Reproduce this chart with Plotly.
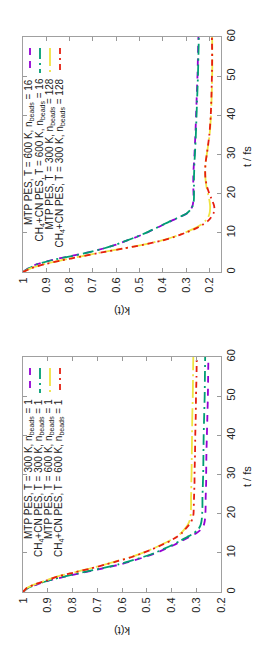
import plotly.graph_objects as go

# ---------------- data ----------------
t_fs = [0, 1, 2, 3, 4, 5, 6, 7, 8, 9, 10, 11, 12, 13, 14, 15, 16, 17, 18, 19, 20,
        22, 24, 26, 28, 30, 35, 40, 45, 50, 55, 60]

# upper panel (n_beads = 16 / 128)
k_mtp_600_16 = [1.000, 0.975, 0.940, 0.880, 0.800, 0.720, 0.655, 0.600, 0.555, 0.510, 0.470,
                0.435, 0.400, 0.365, 0.327, 0.295, 0.279, 0.272, 0.269, 0.268, 0.268,
                0.269, 0.269, 0.268, 0.266, 0.264, 0.260, 0.257, 0.254, 0.251, 0.249, 0.247]
k_cn_600_16 = [1.000, 0.973, 0.937, 0.877, 0.797, 0.718, 0.654, 0.600, 0.556, 0.512, 0.472,
               0.437, 0.402, 0.367, 0.329, 0.296, 0.279, 0.271, 0.267, 0.266, 0.266,
               0.266, 0.266, 0.265, 0.264, 0.262, 0.258, 0.255, 0.252, 0.249, 0.247, 0.245]
k_mtp_300_128 = [1.000, 0.965, 0.910, 0.835, 0.750, 0.665, 0.570, 0.482, 0.408, 0.352, 0.307,
                 0.268, 0.238, 0.218, 0.205, 0.199, 0.197, 0.197, 0.199, 0.202, 0.206,
                 0.213, 0.217, 0.218, 0.216, 0.211, 0.199, 0.193, 0.190, 0.188, 0.187, 0.188]
k_cn_300_128 = [1.000, 0.963, 0.907, 0.832, 0.747, 0.662, 0.568, 0.480, 0.405, 0.349, 0.303,
                0.262, 0.230, 0.207, 0.192, 0.182, 0.178, 0.180, 0.186, 0.193, 0.200,
                0.211, 0.217, 0.218, 0.216, 0.211, 0.200, 0.194, 0.191, 0.189, 0.188, 0.189]

# lower panel (n_beads = 1)
k_mtp_300_1 = [1.000, 0.980, 0.940, 0.890, 0.825, 0.755, 0.680, 0.610, 0.555, 0.505, 0.460,
               0.425, 0.390, 0.360, 0.330, 0.300, 0.280, 0.270, 0.266, 0.264, 0.263,
               0.262, 0.262, 0.261, 0.260, 0.260, 0.259, 0.257, 0.255, 0.253, 0.252, 0.251]
k_cn_300_1 = [1.000, 0.980, 0.942, 0.893, 0.830, 0.760, 0.686, 0.617, 0.562, 0.512, 0.467,
              0.431, 0.397, 0.367, 0.338, 0.310, 0.292, 0.283, 0.279, 0.277, 0.276,
              0.275, 0.275, 0.274, 0.273, 0.272, 0.271, 0.270, 0.268, 0.266, 0.265, 0.264]
k_mtp_600_1 = [1.000, 0.985, 0.950, 0.905, 0.860, 0.795, 0.730, 0.670, 0.615, 0.560, 0.517,
               0.478, 0.443, 0.410, 0.383, 0.362, 0.348, 0.336, 0.328, 0.324, 0.322,
               0.321, 0.321, 0.320, 0.320, 0.319, 0.318, 0.317, 0.316, 0.314, 0.313, 0.312]
k_cn_600_1 = [1.000, 0.985, 0.950, 0.903, 0.857, 0.792, 0.727, 0.667, 0.612, 0.557, 0.514,
              0.475, 0.440, 0.407, 0.380, 0.359, 0.345, 0.331, 0.320, 0.314, 0.311,
              0.310, 0.309, 0.308, 0.307, 0.307, 0.305, 0.304, 0.302, 0.301, 0.299, 0.298]

k_ticks = [1.0, 0.9, 0.8, 0.7, 0.6, 0.5, 0.4, 0.3, 0.2]
k_tick_labels = ["1", "0.9", "0.8", "0.7", "0.6", "0.5", "0.4", "0.3", "0.2"]
t_ticks = [0, 10, 20, 30, 40, 50, 60]
t_tick_labels = ["0", "10", "20", "30", "40", "50", "60"]

names_top = ["MTP PES, T = 600 K, n<sub>beads</sub> = 16",
             "CH<sub>4</sub>+CN PES, T = 600 K, n<sub>beads</sub> = 16",
             "MTP PES, T = 300 K, n<sub>beads</sub> = 128",
             "CH<sub>4</sub>+CN PES, T = 300 K, n<sub>beads</sub> = 128"]
names_bot = ["MTP PES, T = 300 K, n<sub>beads</sub> = 1",
             "CH<sub>4</sub>+CN PES, T = 300 K, n<sub>beads</sub> = 1",
             "MTP PES, T = 600 K, n<sub>beads</sub> = 1",
             "CH<sub>4</sub>+CN PES, T = 600 K, n<sub>beads</sub> = 1"]

colors = ["#9400D3", "#009E73", "#F0E442", "#E51E10"]
dashes = ["7px,6px", "11px,4px,2px,4px", "18px,4px,2px,4px", "6px,4px,2px,4px"]

# ---------------- layout geometry ----------------
# the html body has an 8px default margin, so the figure is drawn 8px in
BODY = 8
W, H = 264 - 2 * BODY, 660 - 2 * BODY
PLOT_L, PLOT_R = 23, 221          # plot area in window pixels
PLOT_T, PLOT_B = 37, 592
ML = PLOT_L - BODY
MR = W - (PLOT_R - BODY)
MT = PLOT_T - BODY
MB = H - (PLOT_B - BODY)
PW, PH = W - ML - MR, H - MT - MB
panel_h = 235


def px(xp):
    return (xp - BODY - ML) / PW


def py(yp):
    return (H - MB - (yp - BODY)) / PH


top_dom = [1 - panel_h / PH, 1.0]
bot_dom = [0.0, panel_h / PH]

fig = go.Figure()

top_series = [k_mtp_600_16, k_cn_600_16, k_mtp_300_128, k_cn_300_128]
bot_series = [k_mtp_300_1, k_cn_300_1, k_mtp_600_1, k_cn_600_1]

for i, ks in enumerate(top_series):
    fig.add_trace(go.Scatter(x=ks, y=t_fs, mode="lines", xaxis="x", yaxis="y",
                             line=dict(color=colors[i], width=1.8, dash=dashes[i],
                                       shape="spline", smoothing=0.6),
                             name=names_top[i], showlegend=False))
for i, ks in enumerate(bot_series):
    fig.add_trace(go.Scatter(x=ks, y=t_fs, mode="lines", xaxis="x2", yaxis="y2",
                             line=dict(color=colors[i], width=1.8, dash=dashes[i],
                                       shape="spline", smoothing=0.6),
                             name=names_bot[i], showlegend=False))

FONT = "Liberation Sans, Arial, sans-serif"
tickfont = dict(family=FONT, size=11, color="#222")
common_x = dict(tickvals=k_ticks, ticktext=k_tick_labels, tickangle=-90,
                ticks="inside", ticklen=4, tickcolor="#999", showline=True,
                linecolor="#a0a0a0", linewidth=1, mirror="ticks", showgrid=False,
                zeroline=False, tickfont=tickfont, automargin=False)
common_y = dict(tickvals=t_ticks, ticktext=t_tick_labels, tickangle=-90, range=[0, 60],
                side="right", ticks="inside", ticklen=4, tickcolor="#999", showline=True,
                linecolor="#a0a0a0", linewidth=1, mirror="ticks", showgrid=False,
                zeroline=False, tickfont=tickfont, automargin=False)

fig.update_layout(
    template="none",
    width=W, height=H, margin=dict(l=ML, r=MR, t=MT, b=MB, pad=0, autoexpand=False),
    paper_bgcolor="white", plot_bgcolor="white", showlegend=False,
    xaxis=dict(domain=[0, 1], anchor="y", range=[1, 0.15], **common_x),
    yaxis=dict(domain=top_dom, anchor="x", **common_y),
    xaxis2=dict(domain=[0, 1], anchor="y2", range=[1, 0.2], **common_x),
    yaxis2=dict(domain=bot_dom, anchor="x2", **common_y),
)

annotations = []
shapes = []
label_font = dict(family=FONT, size=10, color="#222")
title_font = dict(family=FONT, size=11, color="#222")
for off, names in [(0, names_top), (320, names_bot)]:
    for i, nm in enumerate(names):
        xc = 30 + 10 * i
        shapes.append(dict(type="line", xref="paper", yref="paper",
                           x0=px(xc), x1=px(xc), y0=py(48 + off), y1=py(73 + off),
                           line=dict(color=colors[i], width=1.8, dash=dashes[i])))
        annotations.append(dict(text=nm, xref="paper", yref="paper", x=px(xc - 1),
                                y=py(77 + off), xanchor="center", yanchor="top",
                                textangle=-90, showarrow=False, font=label_font))
    annotations.append(dict(text="t / fs", xref="paper", yref="paper", x=px(247),
                            y=py(157 + off), xanchor="center", yanchor="middle",
                            textangle=-90, showarrow=False, font=title_font))
    annotations.append(dict(text="k(t)", xref="paper", yref="paper", x=px(122),
                            y=py(311 + off), xanchor="center", yanchor="middle",
                            textangle=180, showarrow=False, font=title_font))

fig.update_layout(annotations=annotations, shapes=shapes)
fig.write_html("out.html")
